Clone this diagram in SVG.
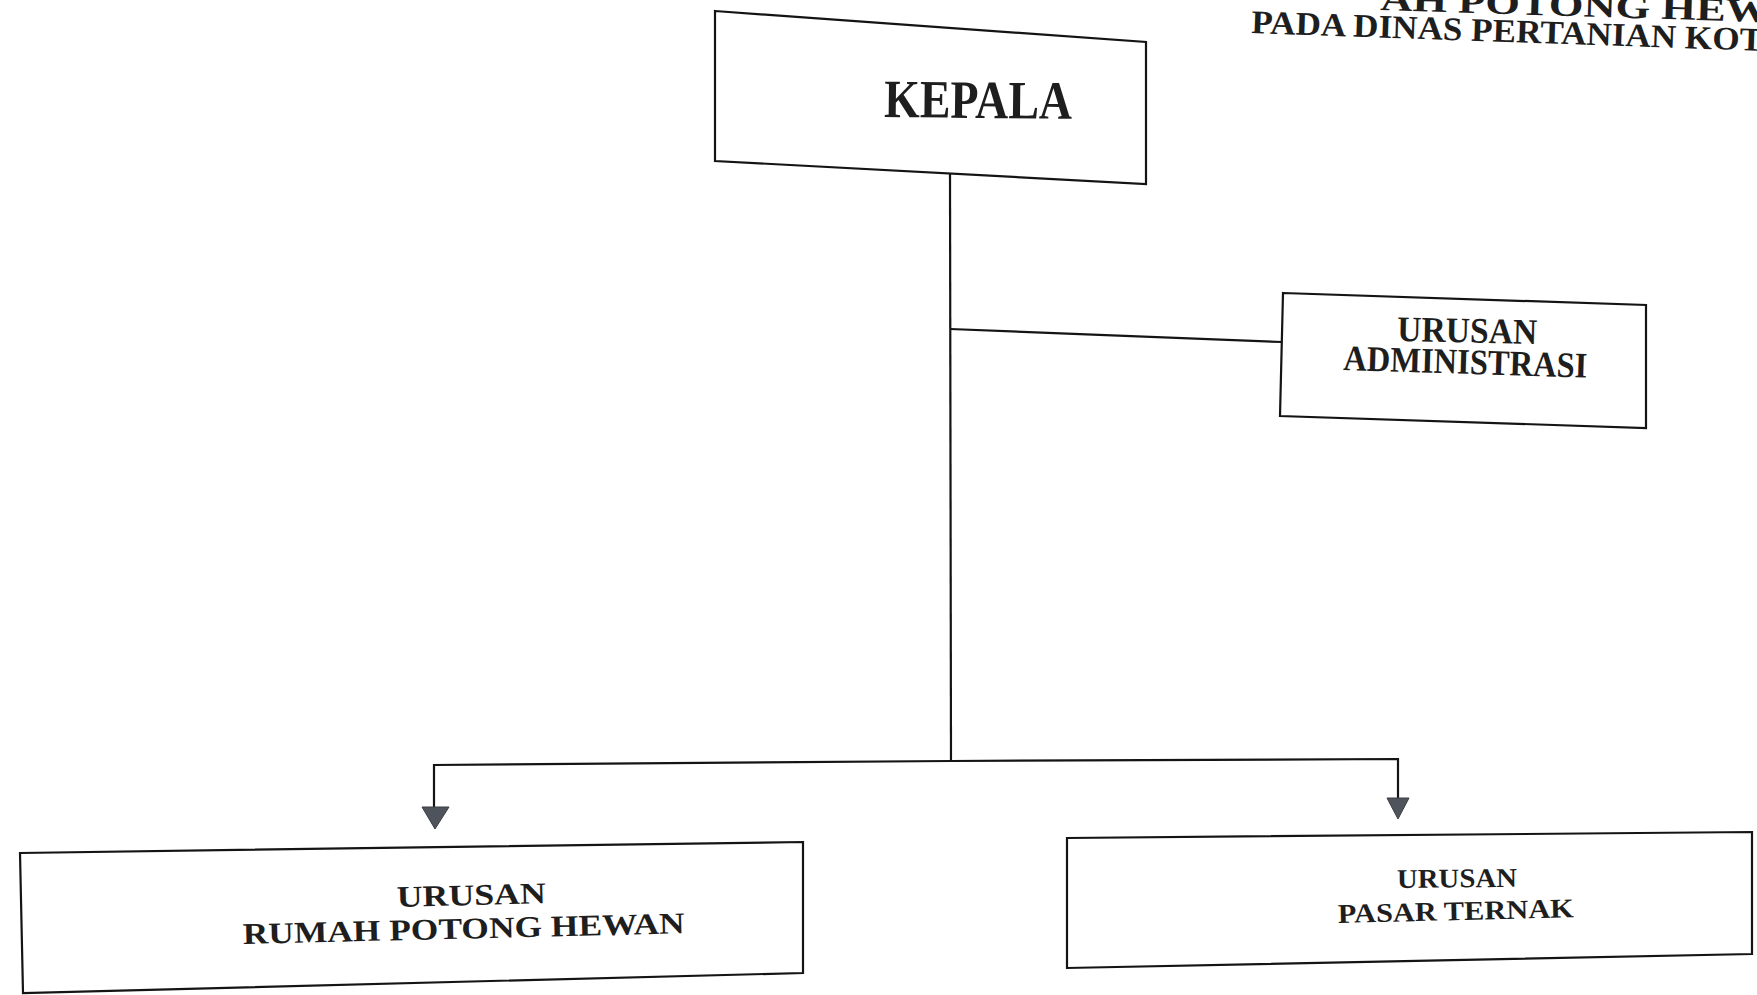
<svg xmlns="http://www.w3.org/2000/svg" width="1757" height="995" viewBox="0 0 1757 995">
<style>
.box{fill:#fff;stroke:#141414;stroke-width:2.2;stroke-linejoin:miter}
.ln{fill:none;stroke:#141414;stroke-width:2.2}
.tx{font-family:"Liberation Serif","Times New Roman",serif;font-weight:bold;fill:#1e1e1e}
.ah{fill:#4f545c;stroke:#3a3d42;stroke-width:1}
</style>
<rect width="1757" height="995" fill="#fff"/>
<g id="title">
<text class="tx" x="1380" y="10" font-size="33" textLength="390" lengthAdjust="spacingAndGlyphs" transform="rotate(1.8 1380 10)">AH POTONG HEW</text>
<text class="tx" x="1251" y="33" font-size="33" textLength="512" lengthAdjust="spacingAndGlyphs" transform="rotate(2 1251 33)">PADA DINAS PERTANIAN KOT</text>
</g>
<g id="connectors">
<polyline class="ln" points="950,174 951,761"/>
<polyline class="ln" points="950,329 1282,342"/>
<polyline class="ln" points="434,808 434,765 951,761 1398,759 1398,799"/>
<polygon class="ah" points="422,807 449,807 435,829"/>
<polygon class="ah" points="1387,798 1409,798 1398,819"/>
</g>
<g id="kepala">
<polygon class="box" points="715,11 1146,42 1146,184 715,161"/>
<text class="tx" x="884" y="117" font-size="54" textLength="188" lengthAdjust="spacingAndGlyphs" transform="rotate(0.6 884 117)">KEPALA</text>
</g>
<g id="administrasi">
<polygon class="box" points="1283,293 1646,305 1646,428 1280,416"/>
<text class="tx" x="1397" y="341" font-size="36" textLength="140" lengthAdjust="spacingAndGlyphs" transform="rotate(1.2 1397 341)">URUSAN</text>
<text class="tx" x="1343" y="370" font-size="36" textLength="244" lengthAdjust="spacingAndGlyphs" transform="rotate(1.8 1343 370)">ADMINISTRASI</text>
</g>
<g id="rumah-potong">
<polygon class="box" points="20,853 803,842 803,973 23,993"/>
<text class="tx" x="397" y="907" font-size="30" textLength="149" lengthAdjust="spacingAndGlyphs" transform="rotate(-1.5 397 907)">URUSAN</text>
<text class="tx" x="243" y="944" font-size="30" textLength="442" lengthAdjust="spacingAndGlyphs" transform="rotate(-1.4 243 944)">RUMAH POTONG HEWAN</text>
</g>
<g id="pasar-ternak">
<polygon class="box" points="1067,838 1752,832 1752,954 1067,968"/>
<text class="tx" x="1397" y="888" font-size="27" textLength="120" lengthAdjust="spacingAndGlyphs" transform="rotate(-0.6 1397 888)">URUSAN</text>
<text class="tx" x="1338" y="923" font-size="27" textLength="236" lengthAdjust="spacingAndGlyphs" transform="rotate(-1.4 1338 923)">PASAR TERNAK</text>
</g>
</svg>
